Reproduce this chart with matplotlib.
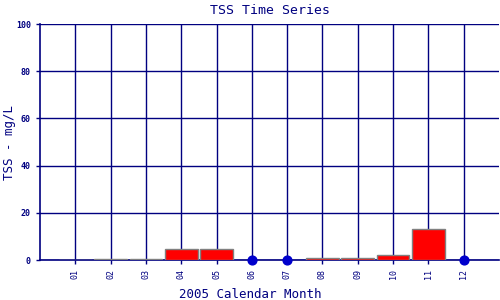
import matplotlib
matplotlib.use("Agg")
import matplotlib.pyplot as plt

months = ["01", "02", "03", "04", "05", "06", "07", "08", "09", "10", "11", "12"]
tss = [0.1, 0.4, 0.4, 4.7, 4.7, None, None, 0.8, 0.8, 2.2, 13.0, None]
nondetect = ["06", "07", "12"]

navy = "#000080"
plt.rcParams["font.family"] = "DejaVu Sans Mono"

fig = plt.figure(figsize=(5, 3), dpi=100)
ax = fig.add_axes([0.08, 0.1333, 0.918, 0.7867])

pos = list(range(1, 13))
for p, m, v in zip(pos, months, tss):
    if v is not None:
        ax.bar(p, v, width=0.93, color="red", edgecolor="gray", linewidth=1, zorder=3)

nd_x = [pos[months.index(m)] for m in nondetect]
ax.scatter(nd_x, [0] * len(nd_x), s=40, color="#0000cc", zorder=4, clip_on=False)

ax.set_xlim(0, 13)
ax.set_ylim(0, 100)
ax.set_xticks(pos)
ax.set_xticklabels(months, rotation=90, fontsize=6, color=navy)
ax.set_yticks([0, 20, 40, 60, 80, 100])
ax.set_yticklabels(["0", "20", "40", "60", "80", "100"], fontsize=6, color=navy, fontweight="bold")
ax.tick_params(axis="both", colors=navy, length=3, width=1)
ax.grid(True, color=navy, linewidth=1, zorder=0)
ax.set_axisbelow(True)
for s in ["top", "right"]:
    ax.spines[s].set_visible(False)
for s in ["left", "bottom"]:
    ax.spines[s].set_color(navy)
    ax.spines[s].set_linewidth(1.2)

ax.set_title("TSS Time Series", fontsize=9.5, color=navy, pad=7)
ax.set_xlabel("2005 Calendar Month", fontsize=9, color=navy)
ax.set_ylabel("TSS - mg/L", fontsize=9, color=navy)
# label positions in axes coords (axes spans x 40..499 px, y 24..260 px)
ax.xaxis.set_label_coords((250 - 40) / 459, -(294 - 260) / 236, transform=ax.transAxes)
ax.xaxis.label.set_va("center")
ax.yaxis.set_label_coords(-(40 - 10) / 459, (260 - 142) / 236, transform=ax.transAxes)
ax.yaxis.label.set_va("center")

fig.savefig("out.png", dpi=100)
